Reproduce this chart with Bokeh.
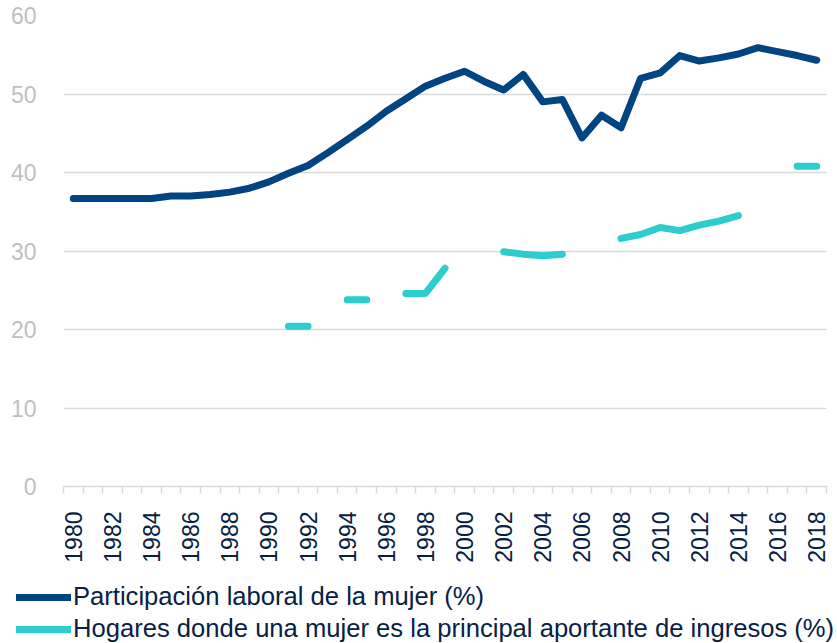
import math
from bokeh.plotting import figure
from bokeh.layouts import column
from bokeh.models import Range1d, FixedTicker, Legend, LegendItem, ColumnDataSource
from bokeh.embed import file_html
from bokeh.resources import INLINE

NaN = float("nan")

years = list(range(1980, 2019))
tick_years = [y for y in years if y % 2 == 0]
tick_labels = [str(y) for y in tick_years]

participacion = [36.7, 36.7, 36.7, 36.7, 36.7, 37.0, 37.0, 37.2, 37.5, 38.0,
                 38.8, 39.9, 40.9, 42.5, 44.2, 45.9, 47.8, 49.4, 51.0, 52.0,
                 52.9, 51.6, 50.5, 52.5, 49.0, 49.3, 44.4, 47.3, 45.7, 52.0,
                 52.7, 54.9, 54.2, 54.6, 55.1, 55.9, 55.4, 54.9, 54.3]

hogares = [NaN, NaN, NaN, NaN, NaN, NaN, NaN, NaN, NaN, NaN,
           NaN, 20.4, 20.4, NaN, 23.8, 23.8, NaN, 24.6, 24.6, 27.8,
           NaN, NaN, 29.9, 29.6, 29.4, 29.6, NaN, NaN, 31.6, 32.1,
           33.0, 32.6, 33.3, 33.8, 34.5, NaN, NaN, 40.8, 40.8]

label_part = "Participación laboral de la mujer (%)"
label_hog = "Hogares donde una mujer es la principal aportante de ingresos (%)"

NAVY = "#004481"
TEAL = "#2DCCCD"
TEXT = "#072146"
GRID = "#d9d9d9"
FONT = "Liberation Sans"

p = figure(width=837, height=565, output_backend="svg", toolbar_location=None,
           x_range=Range1d(years[0] - 0.5, years[-1] + 0.5), y_range=Range1d(0, 60))
p.min_border_left = 63
p.min_border_right = 11
p.min_border_top = 15
p.min_border_bottom = 76
p.outline_line_color = None
p.background_fill_color = "white"
p.border_fill_color = "white"
p.frame_align = False

src = ColumnDataSource(dict(x=years, part=participacion, hog=hogares))
r1 = p.line("x", "part", source=src, line_color=NAVY, line_width=7,
            line_cap="round", line_join="round")
r2 = p.line("x", "hog", source=src, line_color=TEAL, line_width=7,
            line_cap="round", line_join="round")

# grid
p.xgrid.visible = False
p.ygrid.grid_line_color = GRID
p.ygrid.grid_line_width = 1.5
p.ygrid.ticker = FixedTicker(ticks=[10, 20, 30, 40, 50, 60])

# y axis
ya = p.yaxis[0]
ya.ticker = FixedTicker(ticks=[0, 10, 20, 30, 40, 50, 60])
ya.axis_line_color = None
ya.major_tick_line_color = None
ya.minor_tick_line_color = None
ya.major_label_text_color = "#bfbfbf"
ya.major_label_text_font = FONT
ya.major_label_text_font_size = "23px"
ya.major_label_standoff = 21

# x axis
xa = p.xaxis[0]
xa.ticker = FixedTicker(ticks=tick_years, minor_ticks=[y - 0.5 for y in years] + [years[-1] + 0.5])
xa.major_label_overrides = {y: s for y, s in zip(tick_years, tick_labels)}
xa.axis_line_color = GRID
xa.axis_line_width = 1.5
xa.major_tick_out = 0
xa.major_tick_in = 0
xa.major_tick_line_color = None
xa.minor_tick_out = 7
xa.minor_tick_in = 0
xa.minor_tick_line_color = GRID
xa.minor_tick_line_width = 1.5
xa.major_label_orientation = math.pi / 2
xa.major_label_text_color = TEXT
xa.major_label_text_font = FONT
xa.major_label_text_font_size = "23px"
xa.major_label_standoff = 18

# legend panel below the chart (its series lines fall outside its visible range)
p2 = figure(width=837, height=78, output_backend="svg", toolbar_location=None,
            x_range=Range1d(0, 1), y_range=Range1d(-2, -1))
p2.min_border_left = 0
p2.min_border_right = 0
p2.min_border_top = 0
p2.min_border_bottom = 0
p2.axis.visible = False
p2.grid.visible = False
p2.outline_line_color = None
p2.frame_align = False
l1 = p2.line("x", "part", source=src, line_color=NAVY, line_width=7, line_cap="round")
l2 = p2.line("x", "hog", source=src, line_color=TEAL, line_width=7, line_cap="round")

legend = Legend(items=[LegendItem(label=label_part, renderers=[l1]),
                       LegendItem(label=label_hog, renderers=[l2])],
                orientation="vertical", location=(16, 0))
legend.border_line_color = None
legend.background_fill_alpha = 0
legend.margin = 0
legend.padding = 0
legend.spacing = 3
legend.glyph_width = 55
legend.glyph_height = 24
legend.label_height = 24
legend.label_standoff = 2
legend.label_text_font = FONT
legend.label_text_font_size = "25.6px"
legend.label_text_color = TEXT
p2.add_layout(legend, "center")

layout = column(p, p2, spacing=0)
open("out.html", "w").write(file_html(layout, INLINE))
